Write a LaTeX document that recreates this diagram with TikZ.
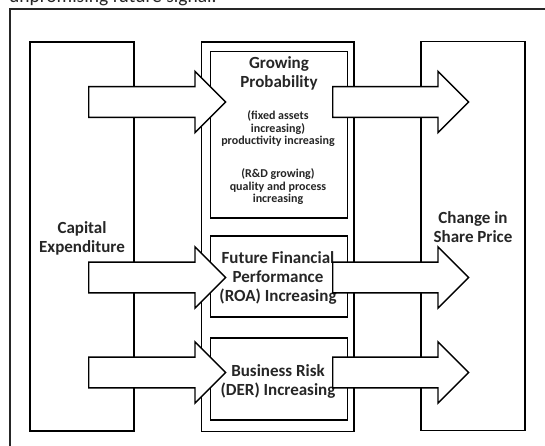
\documentclass[tikz,border=0pt]{standalone}
\usepackage{fontspec}
\setmainfont{Carlito}
\usepackage{tikz}
\usetikzlibrary{shapes.arrows, positioning}

\begin{document}
\begin{tikzpicture}[x=1pt, y=-1pt,
            box/.style={draw, rectangle, line width=1.4pt, inner sep=0pt, fill=white},
            inbox/.style={draw, rectangle, line width=1.2pt, inner sep=0pt, minimum width=137pt},
            title/.style={font=\fontsize{17}{19}\selectfont\bfseries, align=center, text=black!85},
            note/.style={font=\fontsize{12}{12.5}\selectfont\bfseries, align=center, text=black!85},
            blockarrow/.style={single arrow, draw, fill=white, line width=1.4pt, inner xsep=0pt, inner ysep=14.7pt,
                single arrow head extend=15.3pt, minimum height=137pt, anchor=tail}]

            \useasboundingbox (0,0) rectangle (545,446);

            \node[font=\fontsize{19.5}{19.5}\selectfont, anchor=base west, inner sep=0pt, text=black!85] (cutline) at (9,2.5) {unpromising future signal.};
            \draw[line width=1.4pt, black!85] (10,470) |- (570,9);

            \node[box, minimum width=104pt, minimum height=389pt] (capex) at (82,236.5) {};
            \node[box, minimum width=152.5pt, minimum height=389.5pt] (mid) at (277.75,236.75) {};
            \node[box, minimum width=104pt, minimum height=388.5pt] (price) at (473,236) {};

            \node[inbox, minimum height=166.3pt] (growth) at (279,134.85) {};
            \node[inbox, minimum height=81pt] (perform) at (279,276.5) {};
            \node[inbox, minimum height=82pt] (risk) at (279,379) {};

            \node[title] (capexlbl) at (82,238) {Capital\\Expenditure};
            \node[title] (pricelbl) at (473,227) {Change in\\Share Price};
            \node[title] (growlbl) at (279,73) {Growing\\Probability};
            \node[note] (assetlbl) at (278,129) {(fixed assets\\increasing)\\productivity increasing};
            \node[note] (rdlbl) at (278,187) {(R\&D growing)\\quality and process\\increasing};
            \node[title] (perflbl) at (278,277.5) {Future Financial\\Performance\\(ROA) Increasing};
            \node[title] (risklbl) at (278,381) {Business Risk\\(DER) Increasing};

            \node[blockarrow] (ina) at (88,102) {};
            \node[blockarrow] (inb) at (88,277.5) {};
            \node[blockarrow] (inc) at (88,372.5) {};
            \node[blockarrow, minimum height=136pt] (outa) at (332,102) {};
            \node[blockarrow, minimum height=136pt] (outb) at (332,277.5) {};
            \node[blockarrow, minimum height=136pt] (outc) at (332,372.5) {};
        \end{tikzpicture}
\end{document}
